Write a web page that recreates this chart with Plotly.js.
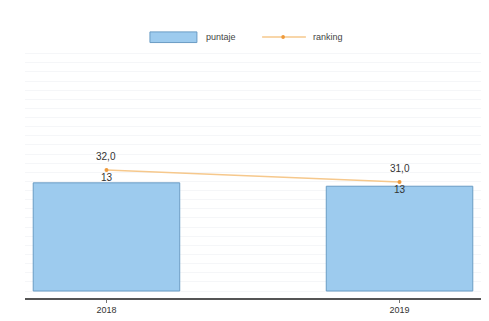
<!DOCTYPE html>
<html>
<head>
<meta charset="utf-8">
<script src="https://cdn.plot.ly/plotly-3.0.1.min.js"></script>
<style>html,body{margin:0;padding:0;background:#fff;}#chart{width:489px;height:321px;}</style>
</head>
<body>
<div id="chart"></div>
<script>
const years = ["2018", "2019"];
const puntaje = [32.0, 31.0];
const ranking = [13, 13];
const seriesNames = ["puntaje", "ranking"];

const fmt = v => v.toFixed(1).replace(".", ",");
const FONT = "Liberation Sans, Arial, sans-serif";
const barColor = "#9dcbee", barLine = "#6a9cc4", lineColor = "#f6c88c", markerColor = "#ef9a3a";

const traces = [
  {
    type: "bar", name: seriesNames[0], x: years, y: puntaje, width: 0.5, showlegend: false,
    marker: {color: barColor, line: {color: barLine, width: 1}},
    hoverinfo: "skip"
  },
  {
    type: "scatter", mode: "lines+markers+text", name: seriesNames[1], x: years, y: puntaje, yaxis: "y2",
    showlegend: false,
    line: {color: lineColor, width: 1.5},
    marker: {color: markerColor, size: 4},
    text: ranking.map(String), textposition: "bottom center",
    textfont: {family: FONT, size: 10, color: "#333"},
    cliponaxis: false, hoverinfo: "skip"
  }
];

const annotations = years.map((yr, i) => ({
  x: i, y: puntaje[i], xref: "x", yref: "y2", text: fmt(puntaje[i]),
  showarrow: false, yanchor: "bottom", yshift: 6,
  font: {family: FONT, size: 10, color: "#333"}
}));
annotations.push(
  {xref: "paper", yref: "paper", x: 0.393, y: 1.052, xanchor: "left", yanchor: "middle",
   text: seriesNames[0], showarrow: false, font: {family: FONT, size: 9, color: "#444"}},
  {xref: "paper", yref: "paper", x: 0.627, y: 1.052, xanchor: "left", yanchor: "middle",
   text: seriesNames[1], showarrow: false, font: {family: FONT, size: 9, color: "#444"}}
);

const shapes = [
  {type: "rect", xref: "paper", yref: "paper", x0: 0.274, x1: 0.377, y0: 1.030, y1: 1.073,
   fillcolor: barColor, line: {color: barLine, width: 1}},
  {type: "line", xref: "paper", yref: "paper", x0: 0.520, x1: 0.616, y0: 1.052, y1: 1.052,
   line: {color: lineColor, width: 1.5}},
  {type: "circle", xref: "paper", yref: "paper", x0: 0.562, x1: 0.570, y0: 1.044, y1: 1.060,
   fillcolor: markerColor, line: {color: markerColor, width: 0}}
];

const layout = {
  width: 489, height: 321,
  margin: {l: 25, r: 8, t: 50, b: 23},
  paper_bgcolor: "#ffffff", plot_bgcolor: "#ffffff",
  font: {family: FONT, size: 9, color: "#333"},
  showlegend: false,
  annotations: annotations,
  shapes: shapes,
  xaxis: {type: "category", range: [-0.278, 1.278], showgrid: false, zeroline: false,
          showline: true, linecolor: "#555", linewidth: 1.5,
          ticks: "outside", ticklen: 3, tickcolor: "#777",
          tickfont: {size: 9, color: "#333"}},
  yaxis: {range: [-2.07, 71.3], showticklabels: false, zeroline: false,
          showgrid: true, gridcolor: "#f5f6f8", dtick: 2.7, fixedrange: true},
  yaxis2: {overlaying: "y", range: [21.333, 42], visible: false, showgrid: false, zeroline: false},
  bargap: 0.5
};

Plotly.newPlot("chart", traces, layout, {displayModeBar: false, staticPlot: true});
</script>
</body>
</html>
